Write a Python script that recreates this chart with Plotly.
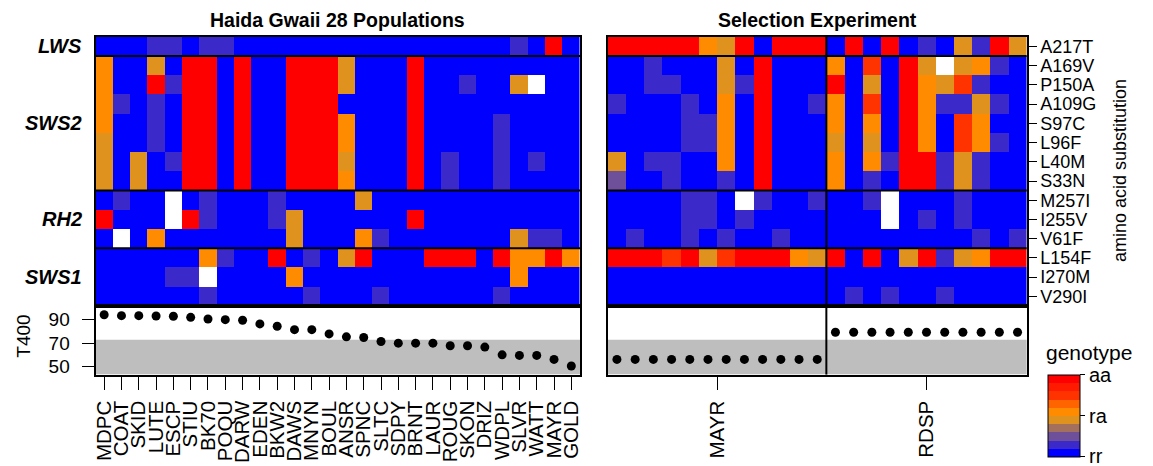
import plotly.graph_objects as go

# ---- labels -------------------------------------------------------------
substitutions = ["A217T",
                 "A169V", "P150A", "A109G", "S97C", "L96F", "L40M", "S33N",
                 "M257I", "I255V", "V61F",
                 "L154F", "I270M", "V290I"]
genes = ["LWS", "SWS2", "RH2", "SWS1"]
gene_sizes = [1, 7, 3, 3]

populations = ["MDPC", "COAT", "SKID", "LUTE", "ESCP", "STIU", "BK70", "POQU",
               "DARW", "EDEN", "BKW2", "DAWS", "MNYN", "BOUL", "ANSR", "SPNC",
               "SLTC", "SDPY", "BRNT", "LAUR", "ROUG", "SKON", "DRIZ", "WDPL",
               "SLVR", "WATT", "MAYR", "GOLD"]
selection_lines = ["MAYR", "RDSP"]
selection_counts = [12, 11]

# ---- genotype scores, wild populations (0 = rr, 0.5 = ra, 1 = aa) -------
wild_LWS = [
    [0, 0, 0, .15, .15, 0, .15, .15, 0, 0, 0, 0, 0, 0, 0, 0, 0, 0, 0, 0, 0, 0, 0, 0, .15, 0, 1, 0],
]
wild_SWS2 = [
    [.55, 0, 0, .45, 0, 1, 1, 0, 1, 0, 0, 1, 1, 1, .45, 0, 0, 0, 1, 0, 0, 0, 0, 0, 0, 0, 0, 0],
    [.55, 0, 0, 1, .15, 1, 1, 0, 1, 0, 0, 1, 1, 1, .45, 0, 0, 0, 1, 0, 0, .15, 0, 0, .45, None, 0, 0],
    [.55, .15, 0, .15, 0, 1, 1, 0, 1, 0, 0, 1, 1, 1, 0, 0, 0, 0, 1, 0, 0, 0, 0, 0, 0, 0, 0, 0],
    [.55, 0, 0, .15, 0, 1, 1, 0, 1, 0, 0, 1, 1, 1, .55, 0, 0, 0, 1, 0, 0, 0, 0, .15, 0, 0, 0, 0],
    [.45, 0, 0, .15, 0, 1, 1, 0, 1, 0, 0, 1, 1, 1, .55, 0, 0, 0, 1, 0, 0, 0, 0, .15, 0, 0, 0, 0],
    [.45, 0, .45, 0, .15, 1, 1, 0, 1, 0, 0, 1, 1, 1, .45, 0, 0, 0, 1, 0, .15, 0, 0, .15, 0, .15, 0, 0],
    [.45, 0, .45, 0, 0, 1, 1, 0, 1, 0, 0, 1, 1, 1, .55, 0, 0, 0, 1, 0, .15, 0, 0, .15, 0, 0, 0, 0],
]
wild_RH2 = [
    [0, .15, 0, 0, None, 0, .15, 0, 0, 0, .15, 0, 0, 0, 0, .45, 0, 0, 0, 0, 0, 0, 0, 0, 0, 0, 0, 0],
    [1, 0, 0, 0, None, 1, .15, 0, 0, 0, .15, .45, 0, 0, 0, 0, 0, 0, 1, 0, 0, 0, 0, 0, 0, 0, 0, 0],
    [0, None, 0, .55, 0, 0, 0, 0, 0, 0, 0, .45, 0, 0, 0, .55, .15, 0, 0, 0, 0, 0, 0, 0, .45, .15, .15, 0],
]
wild_SWS1 = [
    [0, 0, 0, 0, 0, 0, .55, .15, 0, 0, 1, 0, .15, 0, .45, 1, 0, 0, 0, 1, 1, 1, 0, 1, .55, .55, 1, .55],
    [0, 0, 0, 0, .15, .15, None, 0, 0, 0, 0, .55, 0, 0, 0, 0, 0, 0, 0, 0, 0, 0, 0, 0, .55, 0, 0, 0],
    [0, 0, 0, 0, 0, 0, .15, 0, 0, 0, 0, 0, .15, 0, 0, 0, .15, 0, 0, 0, 0, 0, 0, .15, 0, 0, 0, 0],
]

# ---- genotype scores, selection experiment (12 MAYR + 11 RDSP) ----------
sel_LWS = [
    [1, 1, 1, 1, 1, .55, .45, 1, 0, 1, 1, 1] + [0, 1, 0, 1, 0, .15, 0, .45, .15, 1, .45],
]
sel_SWS2 = [
    [0, 0, .15, 0, 0, 0, .45, 0, 1, 0, 0, 0] + [.55, 0, .75, 0, 1, .45, None, .45, .55, .15, 0],
    [0, 0, .15, .15, 0, 0, .45, .15, 1, 0, 0, 0] + [1, 0, .45, 0, 1, .55, .45, .75, .15, 0, 0],
    [.15, 0, 0, 0, .15, 0, .55, 0, 1, 0, 0, .15] + [.55, 0, .75, 0, 1, .55, .15, .15, .45, .15, 0],
    [0, 0, 0, 0, .15, .15, .55, 0, 1, 0, 0, 0] + [.55, 0, .55, 0, 1, .55, 0, .75, .55, 0, 0],
    [0, 0, 0, 0, .15, .15, .55, 0, 1, 0, 0, 0] + [.45, 0, .45, 0, 1, .55, 0, .75, .55, .15, 0],
    [.45, 0, .15, .15, 0, 0, .55, 0, 1, 0, 0, 0] + [.55, 0, .55, .15, 1, 1, .15, .45, .15, 0, 0],
    [.25, 0, 0, .15, 0, 0, .15, 0, 1, 0, 0, 0] + [.55, 0, .15, 0, 1, 1, .15, .45, .15, 0, 0],
]
sel_RH2 = [
    [0, 0, 0, 0, .15, .15, 0, None, .15, 0, 0, .15] + [0, 0, .15, None, 0, 0, 0, .15, 0, 0, 0],
    [0, 0, 0, 0, .15, .15, 0, .15, 0, 0, 0, 0] + [0, 0, 0, None, 0, .15, 0, .15, 0, 0, 0],
    [0, .15, 0, 0, .15, 0, .15, 0, 0, .15, 0, 0] + [0, 0, 0, 0, 0, 0, 0, 0, .15, 0, .15],
]
sel_SWS1 = [
    [1, 1, 1, .75, 1, .45, .75, 1, 1, 1, .55, .45] + [1, 0, 1, 0, .45, 1, .15, .45, .55, 1, 1],
    [0, 0, 0, 0, 0, 0, 0, 0, 0, 0, 0, 0] + [0, 0, 0, 0, 0, 0, 0, 0, 0, 0, 0],
    [0, 0, 0, 0, 0, 0, 0, 0, 0, 0, 0, 0] + [0, .15, 0, .15, 0, 0, .15, 0, 0, 0, 0],
]

# ---- T400 per population / selection individual ------------------------
t400_wild = [94.2, 93.4, 93.4, 93.1, 92.9, 92.0, 90.6, 90.0, 89.5, 86.4,
             84.4, 81.5, 81.5, 77.9, 75.4, 74.8, 71.4, 70.0, 70.0, 70.0,
             67.8, 67.8, 66.7, 60.1, 59.6, 59.6, 56.2, 50.6]
t400_sel = [56.2] * 12 + [79.3] * 11
t400_threshold = 73.0
t400_range = [43.3, 101.6]

# ---- colour scale: ten bins from rr (blue) through ra (orange) to aa ----
bin_colors = ["#0000FF", "#3B29C9", "#6E509A", "#A4705E", "#E0921E",
              "#FF8C00", "#FF6400", "#FF3300", "#FF1A00", "#FF0000"]
colorscale = []
for k, c in enumerate(bin_colors):
    colorscale.append([k / len(bin_colors), c])
    colorscale.append([(k + 1) / len(bin_colors), c])

# ---- assemble matrices ---------------------------------------------------
wild_z = wild_LWS + wild_SWS2 + wild_RH2 + wild_SWS1
sel_z = sel_LWS + sel_SWS2 + sel_RH2 + sel_SWS1
n_rows = len(substitutions)
row_y = list(range(n_rows - 1, -1, -1))          # first substitution on top
n_wild = len(populations)
n_sel = sum(selection_counts)

W, H = 1153, 466
FONT = "Liberation Sans, Arial, sans-serif"


def fx(px):
    return px / W


def fy(px):
    return 1 - px / H


left_dom = [fx(92), fx(579)]
right_dom = [fx(607), fx(1028)]
heat_dom = [fy(308), fy(37)]
dot_dom = [fy(377), fy(308)]

fig = go.Figure()
fig.add_trace(go.Heatmap(
    z=wild_z, x=list(range(n_wild)), y=row_y, zmin=0, zmax=1,
    colorscale=colorscale, showscale=False, xaxis="x", yaxis="y",
    hoverongaps=False))
fig.add_trace(go.Heatmap(
    z=sel_z, x=list(range(n_sel)), y=row_y, zmin=0, zmax=1,
    colorscale=colorscale, xaxis="x2", yaxis="y2", hoverongaps=False,
    colorbar=dict(
        thickness=32, thicknessmode="pixels", len=82, lenmode="pixels",
        x=fx(1049), xanchor="left", y=fy(377), yanchor="top",
        xpad=0, ypad=0, outlinecolor="black", outlinewidth=1,
        tickvals=[0.003, 0.5, 0.997], ticktext=["rr", "ra", "aa"],
        ticks="outside", ticklen=5, tickcolor="black", tickwidth=1,
        ticklabeloverflow="allow",
        tickfont=dict(size=20, family=FONT, color="black"))))
fig.add_trace(go.Scatter(
    x=list(range(n_wild)), y=t400_wild, mode="markers",
    marker=dict(color="black", size=9), xaxis="x3", yaxis="y3",
    showlegend=False))
fig.add_trace(go.Scatter(
    x=list(range(n_sel)), y=t400_sel, mode="markers",
    marker=dict(color="black", size=9), xaxis="x4", yaxis="y4",
    showlegend=False))

frame = dict(showline=True, linecolor="black", linewidth=2, mirror=True,
             showgrid=False, zeroline=False)
tickfont = dict(size=19, family=FONT, color="black")
xtickfont = dict(size=20.5, family=FONT, color="black")

sel_centers = []
start = 0
for n in selection_counts:
    sel_centers.append(start + (n - 1) / 2)
    start += n

fig.update_layout(
    width=W, height=H, margin=dict(l=0, r=0, t=0, b=0),
    paper_bgcolor="white", plot_bgcolor="white", showlegend=False,
    font=dict(family=FONT, color="black"),
    xaxis=dict(domain=left_dom, range=[-0.5, n_wild - 0.5], anchor="y",
               showticklabels=False, ticks="", **frame),
    yaxis=dict(domain=heat_dom, range=[-0.5, n_rows - 0.5], anchor="x",
               showticklabels=False, ticks="", **frame),
    xaxis2=dict(domain=right_dom, range=[-0.5, n_sel - 0.5], anchor="y2",
                showticklabels=False, ticks="", **frame),
    yaxis2=dict(domain=heat_dom, range=[-0.5, n_rows - 0.5], anchor="x2",
                side="right", tickvals=row_y, ticktext=substitutions,
                ticks="outside", ticklen=8, tickwidth=1, tickcolor="black",
                tickfont=dict(size=18, family=FONT, color="black"), **frame),
    xaxis3=dict(domain=left_dom, range=[-0.5, n_wild - 0.5], anchor="y3",
                tickvals=list(range(n_wild)), ticktext=populations,
                tickangle=-90, ticks="outside", ticklen=13, tickwidth=1,
                tickcolor="black", tickfont=xtickfont, ticklabelstandoff=3,
                ticklabeloverflow="allow", **frame),
    yaxis3=dict(domain=dot_dom, range=t400_range, anchor="x3",
                tickvals=[50, 70, 90], ticks="outside", ticklen=12,
                tickwidth=1, tickcolor="black", tickfont=tickfont,
                ticklabelstandoff=8, **frame),
    xaxis4=dict(domain=right_dom, range=[-0.5, n_sel - 0.5], anchor="y4",
                tickvals=sel_centers, ticktext=selection_lines,
                tickangle=-90, ticks="outside", ticklen=13, tickwidth=1,
                tickcolor="black", tickfont=xtickfont, ticklabelstandoff=3,
                ticklabeloverflow="allow", **frame),
    yaxis4=dict(domain=dot_dom, range=t400_range, anchor="x4",
                showticklabels=False, ticks="", **frame),
)

shapes = []
# grey band below the T400 threshold
for xa, ya in (("x3", "y3"), ("x4", "y4")):
    shapes.append(dict(type="rect", xref=f"{xa} domain", yref=ya,
                       x0=0, x1=1, y0=t400_range[0], y1=t400_threshold,
                       fillcolor="#BEBEBE", line=dict(width=0), layer="below"))
# separators between opsin genes
edge = n_rows - 0.5
for size in gene_sizes[:-1]:
    edge -= size
    for xa, ya in (("x", "y"), ("x2", "y2")):
        shapes.append(dict(type="line", xref=f"{xa} domain", yref=ya,
                           x0=0, x1=1, y0=edge, y1=edge,
                           line=dict(color="black", width=2)))
# separators between selection lines
start = 0
for n in selection_counts[:-1]:
    start += n
    for ya in ("y2", "y4"):
        shapes.append(dict(type="line", xref="x2", yref=f"{ya} domain",
                           x0=start - 0.5, x1=start - 0.5, y0=0, y1=1,
                           line=dict(color="black", width=2)))
fig.update_layout(shapes=shapes)

annotations = [
    dict(text="<b>Haida Gwaii 28 Populations</b>", xref="paper", yref="paper",
         x=(left_dom[0] + left_dom[1]) / 2, y=fy(20), xanchor="center",
         yanchor="middle", showarrow=False, font=dict(size=19.5, family=FONT)),
    dict(text="<b>Selection Experiment</b>", xref="paper", yref="paper",
         x=(right_dom[0] + right_dom[1]) / 2, y=fy(20), xanchor="center",
         yanchor="middle", showarrow=False, font=dict(size=19.5, family=FONT)),
    dict(text="amino acid substitution", xref="paper", yref="paper",
         x=fx(1122), y=fy(172), xanchor="center", yanchor="middle",
         textangle=-90, showarrow=False, font=dict(size=18, family=FONT)),
    dict(text="T400", xref="paper", yref="paper", x=fx(20), y=fy(338),
         xanchor="center", yanchor="middle", textangle=-90, showarrow=False,
         font=dict(size=19, family=FONT)),
    dict(text="genotype", xref="paper", yref="paper", x=fx(1045), y=fy(355),
         xanchor="left", yanchor="middle", showarrow=False,
         font=dict(size=21, family=FONT)),
]
top = n_rows - 0.5
for g, size in zip(genes, gene_sizes):
    center = top - size / 2
    annotations.append(dict(
        text=f"<b><i>{g}</i></b>", xref="paper", yref="y", x=fx(80), y=center,
        xanchor="right", yanchor="middle", showarrow=False,
        font=dict(size=20, family=FONT)))
    top -= size
fig.update_layout(annotations=annotations)

fig.write_html("out.html")
